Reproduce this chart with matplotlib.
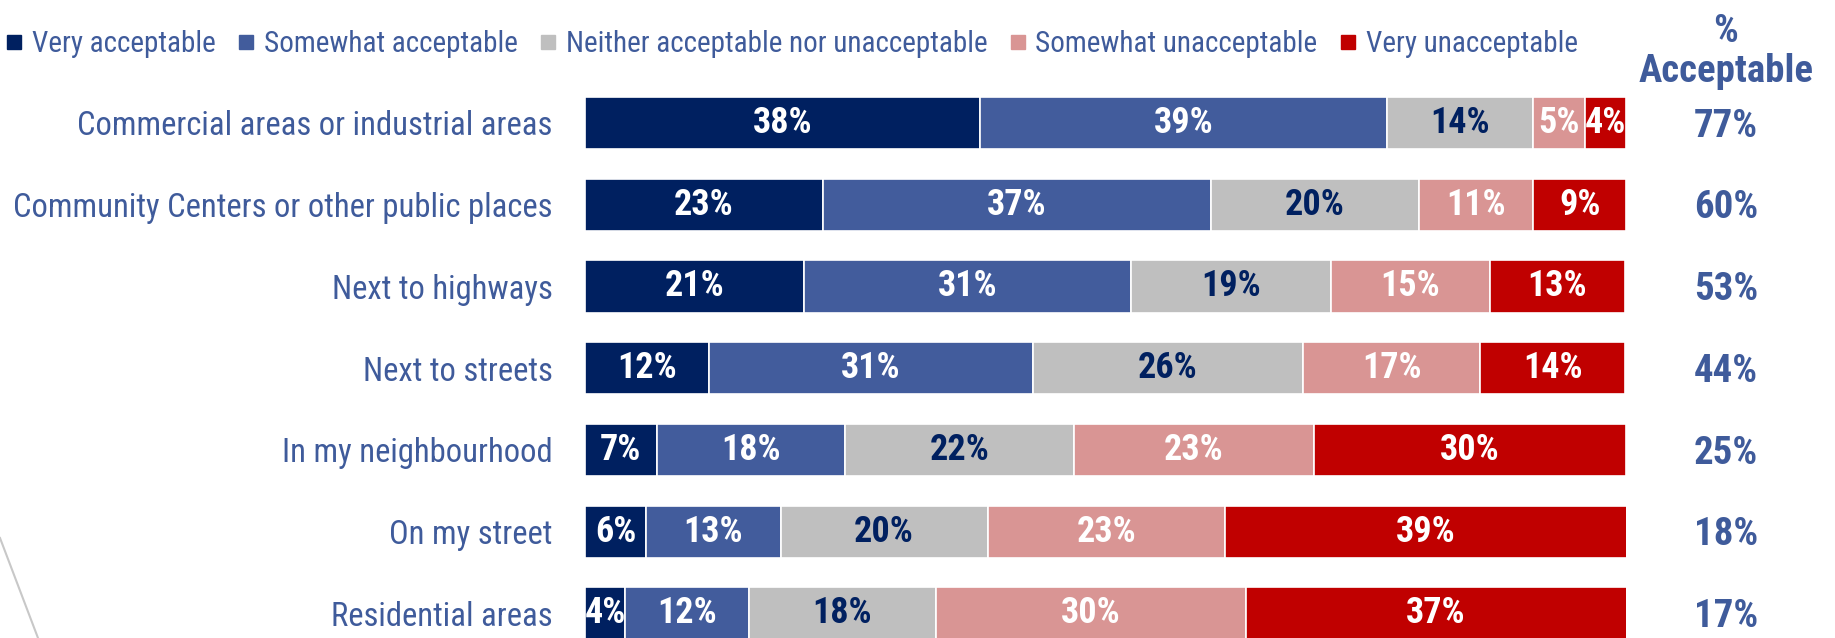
import numpy as np
import matplotlib.pyplot as plt
from matplotlib.lines import Line2D
from matplotlib.transforms import blended_transform_factory

plt.rcParams['font.family'] = ['Liberation Sans Narrow', 'Roboto Condensed', 'Liberation Sans', 'DejaVu Sans']

# 数据
places = ['Commercial areas or industrial areas', 'Community Centers or other public places',
          'Next to highways', 'Next to streets', 'In my neighbourhood', 'On my street',
          'Residential areas']
levels = ['Very acceptable', 'Somewhat acceptable', 'Neither acceptable nor unacceptable',
          'Somewhat unacceptable', 'Very unacceptable']

# 各段长度（%，从图中读取）
very_acc = [38.0, 22.9, 21.1, 11.9, 6.9, 5.9, 3.9]
some_acc = [39.0, 37.2, 31.4, 31.1, 18.1, 12.9, 11.9]
neither = [14.1, 20.0, 19.2, 26.0, 22.0, 19.9, 17.9]
some_unacc = [5.0, 11.0, 15.2, 17.0, 23.0, 22.8, 29.8]
very_unacc = [3.9, 8.9, 13.0, 13.9, 30.0, 38.6, 36.6]

# 段内标签
lab_very_acc = [38, 23, 21, 12, 7, 6, 4]
lab_some_acc = [39, 37, 31, 31, 18, 13, 12]
lab_neither = [14, 20, 19, 26, 22, 20, 18]
lab_some_unacc = [5, 11, 15, 17, 23, 23, 30]
lab_very_unacc = [4, 9, 13, 14, 30, 39, 37]

# 右侧 % Acceptable
pct_acceptable = [77, 60, 53, 44, 25, 18, 17]

colors = ['#002060', '#425C9C', '#BFBFBF', '#D99594', '#C00000']
text_colors = ['white', 'white', '#002060', 'white', 'white']
blue_txt = '#3F5B9B'

series = [very_acc, some_acc, neither, some_unacc, very_unacc]
labels = [lab_very_acc, lab_some_acc, lab_neither, lab_some_unacc, lab_very_unacc]

#%%
fig = plt.figure(figsize=(18.35, 6.38), dpi=100)
ax = fig.add_axes([584.8 / 1835, 0, 1041.2 / 1835, 555.9 / 638])

y = np.arange(len(places))
left = np.zeros(len(places))
for vals, labs, c, tc, name in zip(series, labels, colors, text_colors, levels):
    bars = ax.barh(y, vals, left=left, height=0.64, color=c, edgecolor='white',
                   linewidth=1.2, label=name)
    ax.bar_label(bars, labels=['{}%'.format(v) for v in labs], label_type='center',
                 color=tc, fontsize=26, fontweight='bold')
    left += np.array(vals)

ax.set_xlim(0, 100)
ax.set_ylim(6.30, -0.5)
ax.set_yticks(y)
ax.set_yticklabels(places, fontsize=23.5, color=blue_txt)
ax.tick_params(axis='y', length=0, pad=23)
ax.set_xticks([])
for s in ax.spines.values():
    s.set_visible(False)

# 右侧一列
tr = blended_transform_factory(fig.transFigure, ax.transData)
for i, p in enumerate(pct_acceptable):
    ax.text(0.9406, i + 0.04, '{}%'.format(p), transform=tr, ha='center', va='center',
            fontsize=28, fontweight='bold', color=blue_txt)
fig.text(0.9406, 1 - 32 / 638, '%', ha='center', va='center', fontsize=28,
         fontweight='bold', color=blue_txt)
fig.text(0.9406, 1 - 71 / 638, 'Acceptable', ha='center', va='center', fontsize=28,
         fontweight='bold', color=blue_txt)

# 图例
handles = [Line2D([], [], marker='s', linestyle='', color=c, markersize=10) for c in colors]
fig.legend(handles, levels, loc='center left', bbox_to_anchor=(0.003, 1 - 44.5 / 638),
           ncol=5, frameon=False, fontsize=21, handlelength=0.6, handletextpad=0.3,
           columnspacing=0.75, borderpad=0, borderaxespad=0, labelcolor=blue_txt)

# 左下角装饰线
fig.add_artist(Line2D([0, 38 / 1835], [1 - 538 / 638, 0], color='#C8C8C8', linewidth=1.5))

fig.savefig('out.png', dpi=100)
